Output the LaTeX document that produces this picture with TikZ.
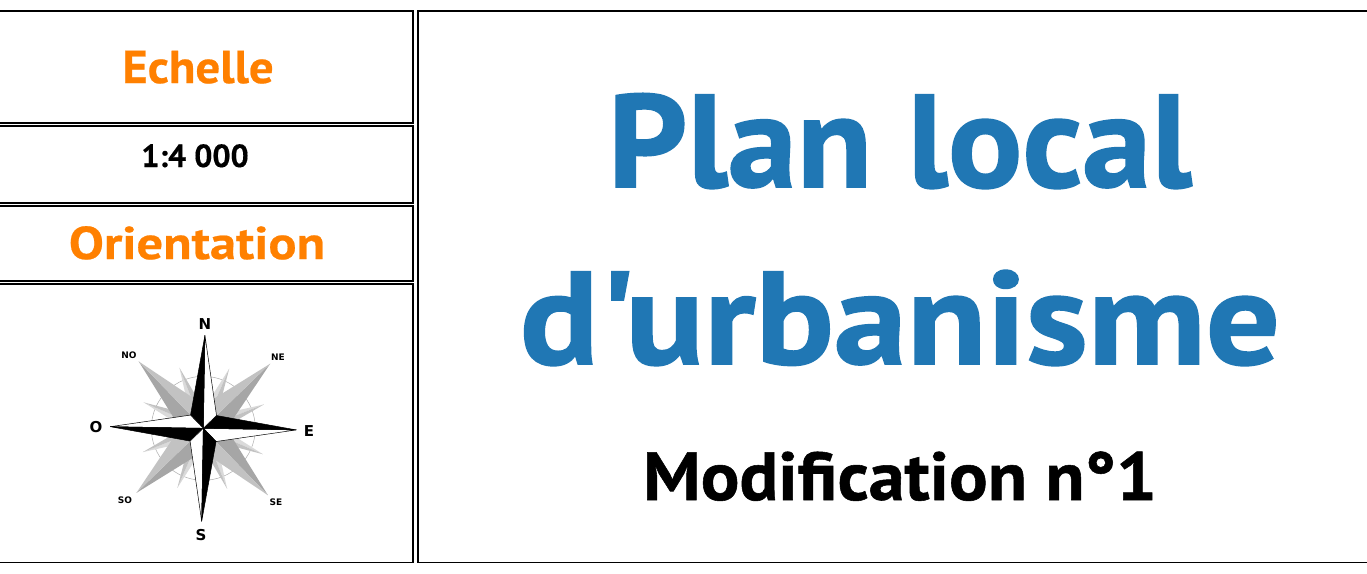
\documentclass[tikz,border=0pt]{standalone}
\usepackage{fontspec}
\newfontfamily\titlefont{PT Sans}
\newfontfamily\rosefont{DejaVu Sans}
\newcommand\ttl[4]{\addfontfeatures{FakeStretch=#2,FakeBold=#3}\fontsize{#1}{#1}\selectfont #4}
\definecolor{plorange}{HTML}{FF8000}
\definecolor{plblue}{HTML}{2077B4}
\definecolor{rosed}{HTML}{A6A6A6}
\definecolor{rosel}{HTML}{C2C2C2}
\definecolor{rosef}{HTML}{DADADA}
\tikzset{
  cell/.style={draw=black,line width=1.7pt,fill=white},
  title/.style={inner sep=0pt,anchor=base,font=\titlefont\bfseries},
  rosecard/.style={inner sep=0pt,font=\rosefont\bfseries\fontsize{15}{15}\selectfont},
  rosemin/.style={inner sep=0pt,font=\rosefont\bfseries\fontsize{9}{9}\selectfont},
  rosedark/.style={fill=black,draw=black,line width=.5pt,line join=round},
  rosewhite/.style={fill=white,draw=black,line width=.5pt,line join=round}
}
\begin{document}
\begin{tikzpicture}[x=1pt,y=-1pt]
\useasboundingbox (0,0) rectangle (1367,573);
\fill[white] (0,0) rectangle (1367,573);
\begin{scope}
\clip (0,0) rectangle (1367,573);
\draw[cell] (-5,11) rectangle (413,123.2);
\draw[cell] (-5,126) rectangle (413,203.2);
\draw[cell] (-5,206) rectangle (413,281.2);
\draw[cell] (-5,284) rectangle (413,562.5);
\draw[cell] (418,11) rectangle (1372,562.5);
\end{scope}
\node[title,text=plorange] (echelle) at (198,83) {\ttl{46}{1.06}{0.5}{Echelle}};
\node[title] (ratio) at (195,167) {\ttl{32}{1.0}{0.4}{1:4 000}};
\node[title,text=plorange] (orient) at (197,259) {\ttl{46}{1.14}{0.5}{Orientation}};
\node[title,text=plblue] (plan) at (900,187) {\ttl{132}{1.05}{1.2}{Plan local}};
\node[title,text=plblue] (durba) at (900,364) {\ttl{132}{1.11}{1.2}{d'urbanisme}};
\node[title] (modif) at (900,500) {\ttl{68}{1.06}{0.8}{Modification n°1}};
\begin{scope}[shift={(203.3,428.3)},rotate=-1,x=1pt,y=1pt]
  \draw[rosel!70!gray,line width=.5pt] (0,0) circle (52);
  \foreach \a in {22.5,67.5,...,337.5}{
    \begin{scope}[rotate=\a]
      \fill[rosef] (0,0) -- (65,0) -- (20,7) -- cycle;
      \fill[rosel] (0,0) -- (65,0) -- (20,-7) -- cycle;
    \end{scope}
  }
  \foreach \a/\s in {45/-1,135/1,225/1,315/1}{
    \begin{scope}[rotate=\a]
      \fill[rosed] (0,0) -- (93,0) -- (28,14*\s) -- cycle;
      \fill[rosel] (0,0) -- (93,0) -- (28,-14*\s) -- cycle;
    \end{scope}
  }
  \foreach \a in {0,90,180,270}{
    \begin{scope}[rotate=\a]
      \filldraw[rosewhite] (0,0) -- (93,0) -- (13,-13) -- cycle;
      \filldraw[rosedark] (0,0) -- (93,0) -- (13,13) -- cycle;
    \end{scope}
  }
\end{scope}
\node[rosecard] (n) at (205,324) {N};
\node[rosecard] (s) at (201,535) {S};
\node[rosecard] (e) at (309,431) {E};
\node[rosecard] (o) at (96,427) {O};
\node[rosemin] (ne) at (278,357) {NE};
\node[rosemin] (no) at (129,355) {NO};
\node[rosemin] (se) at (276,502) {SE};
\node[rosemin] (so) at (125,500) {SO};
\end{tikzpicture}
\end{document}
